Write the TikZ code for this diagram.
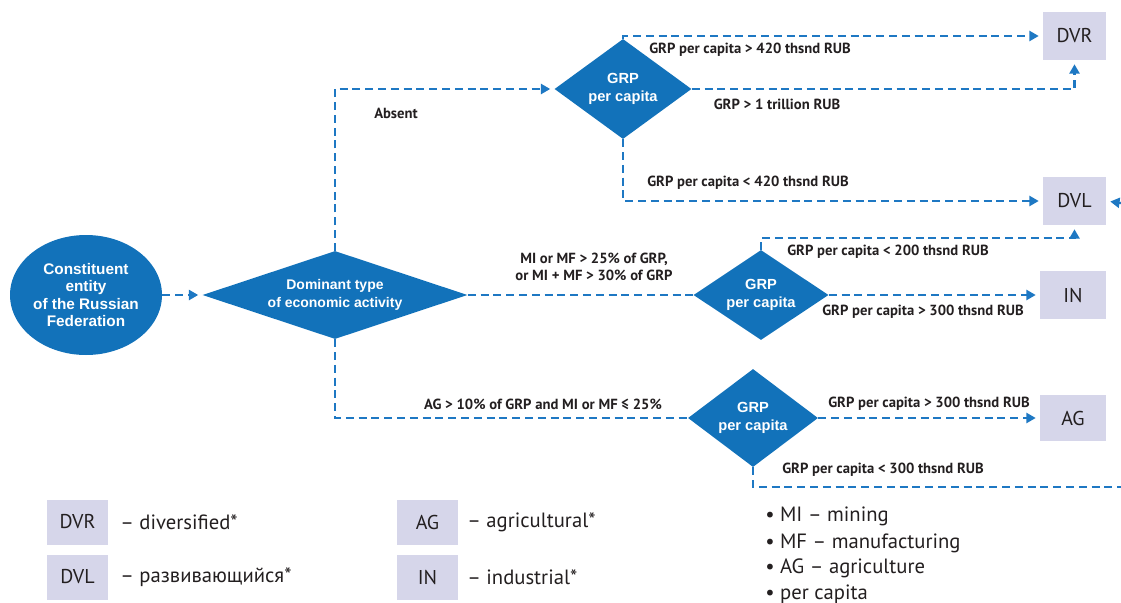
\documentclass[tikz,border=0pt]{standalone}
\usepackage{fontspec}
\usetikzlibrary{shapes.geometric,arrows.meta,calc}
\newfontfamily\labfont{PT Sans}
\newfontfamily\arfont{Liberation Sans}
\definecolor{dblue}{RGB}{18,114,186}
\definecolor{lblue}{RGB}{30,120,195}
\definecolor{lav}{RGB}{214,214,234}
\definecolor{txt}{RGB}{35,31,32}
\tikzset{
  flow/.style={draw=lblue,line width=1.7pt,dash pattern=on 6pt off 3.6pt},
  arr/.style={flow,-{Triangle[length=7pt,width=7.5pt]},shorten >=3pt},
  dia/.style={diamond,fill=dblue,inner sep=0pt,text=white,font=\arfont\bfseries\fontsize{11}{13}\selectfont,align=center},
  ent/.style={ellipse,fill=dblue,inner sep=0pt,text=white,font=\arfont\bfseries\fontsize{11.5}{12.8}\selectfont,align=center,minimum width=114pt,minimum height=90pt},
  res/.style={fill=lav,inner sep=0pt,text=txt,font=\labfont\fontsize{15}{16}\selectfont},
  lab/.style={text=txt,font=\labfont\bfseries\fontsize{11}{12.5}\selectfont,inner sep=0pt,align=center},
  leg/.style={text=txt,font=\labfont\fontsize{15.5}{17}\selectfont,inner sep=0pt,anchor=west},
}
\begin{document}
\begin{tikzpicture}[x=0.75pt,y=-0.75pt]
\useasboundingbox (0,0) rectangle (1121,603);
% nodes
\node[ent] (ent) at (86,295) {Constituent\\entity\\of the Russian\\Federation};
\node[dia,aspect=3,minimum width=198.75pt,minimum height=66pt,font=\arfont\bfseries\fontsize{10.5}{13}\selectfont] (dom) at (335,295) {Dominant type\\of economic activity};
\node[dia,aspect=1.37,minimum width=102.75pt,minimum height=75pt] (g1) at (623,89) {GRP\\per capita};
\node[dia,aspect=1.5,minimum width=101.25pt,minimum height=67.5pt] (g2) at (761,295) {GRP\\per capita};
\node[dia,aspect=1.33,minimum width=97.5pt,minimum height=73.5pt] (g3) at (753,418) {GRP\\per capita};
\node[res,minimum width=47.25pt,minimum height=36pt] (dvr) at (1074.5,36) {DVR};
\node[res,minimum width=47.25pt,minimum height=36pt] (dvl) at (1074.5,201) {DVL};
\node[res,minimum width=49.5pt,minimum height=36pt] (in) at (1073,295) {IN};
\node[res,minimum width=49.5pt,minimum height=34pt] (ag) at (1073,418) {AG};
\coordinate (k2) at (762,238);
\coordinate (r1) at (1121,203);
\coordinate (r3) at (1121,487);
% connectors
\draw[arr] (ent.east) -- (dom.west);
\draw[arr] (dom.north) |- (g1.west);
\draw[arr] (g1.north) |- (dvr.west);
\draw[arr] (g1.east) -| (dvr.south);
\draw[arr] (g1.south) |- (dvl.west);
\draw[flow] (dom.east) -- (g2.west);
\draw[arr] (g2.north) -- (g2.north |- k2) -| (dvl.south);
\draw[arr] (g2.east) -- (in.west);
\draw[flow] (dom.south) |- (g3.west);
\draw[arr] (g3.east) -- (ag.west);
\draw[flow] (g3.south) |- (r3);
\draw[arr] (r1) -- (dvl.east);
% labels
\node[lab] (l1) at (750,50) {GRP per capita > 420 thsnd RUB};
\node[lab] (l2) at (777,104) {GRP > 1 trillion RUB};
\node[lab] (l3) at (748,183) {GRP per capita < 420 thsnd RUB};
\node[lab] (l4) at (396,113) {Absent};
\node[lab] (l5) at (594,267) {MI or MF > 25\% of GRP,\\or MI + MF > 30\% of GRP};
\node[lab] (l6) at (888,252) {GRP per capita < 200 thsnd RUB};
\node[lab] (l7) at (923,312) {GRP per capita > 300 thsnd RUB};
\node[lab] (l8) at (543,404) {AG > 10\% of GRP and MI or MF ≤ 25\%};
\node[lab] (l9) at (929,404) {GRP per capita > 300 thsnd RUB};
\node[lab] (l10) at (883,470) {GRP per capita < 300 thsnd RUB};
% legend
\node[res,minimum width=45.75pt,minimum height=33.75pt] (ldvr) at (77.5,522) {DVR};
\node[res,minimum width=45.75pt,minimum height=33.75pt] (ldvl) at (77.5,577) {DVL};
\node[res,minimum width=45.75pt,minimum height=33.75pt] (lag) at (427.5,522) {AG};
\node[res,minimum width=45.75pt,minimum height=33.75pt] (lin) at (427.5,577) {IN};
\node[leg] (t1) at (120,522) {– diversified*};
\node[leg] (t2) at (120,577) {– развивающийся*};
\node[leg] (t3) at (467,522) {– agricultural*};
\node[leg] (t4) at (467,577) {– industrial*};
\node[leg] (b1) at (765,516) {• MI – mining};
\node[leg] (b2) at (765,543) {• MF – manufacturing};
\node[leg] (b3) at (765,568) {• AG – agriculture};
\node[leg] (b4) at (765,594) {• per capita};
\end{tikzpicture}
\end{document}
